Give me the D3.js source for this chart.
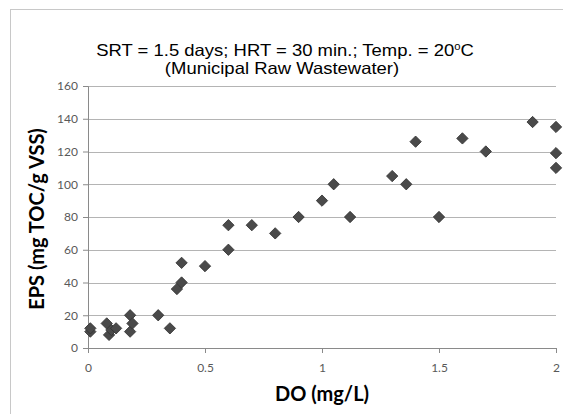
<!DOCTYPE html>
<html>
<head>
<meta charset="utf-8">
<script src="https://cdn.jsdelivr.net/npm/d3@7"></script>
<style>
  body { margin: 0; background: #fff; }
  svg { display: block; }
</style>
</head>
<body>
<div id="chart"></div>
<script>
// DO (mg/L) vs EPS (mg TOC/g VSS)
const doValues  = [0.01, 0.01, 0.08, 0.09, 0.10, 0.12, 0.18, 0.18, 0.19, 0.30, 0.35, 0.38, 0.40, 0.40, 0.50, 0.60, 0.60, 0.70, 0.80, 0.90, 1.00, 1.05, 1.12, 1.30, 1.36, 1.40, 1.50, 1.60, 1.70, 1.90, 2.00, 2.00, 2.00];
const epsValues = [10, 12, 15, 8, 11, 12, 20, 10, 15, 20, 12, 36, 40, 52, 50, 60, 75, 75, 70, 80, 90, 100, 80, 105, 100, 126, 80, 128, 120, 138, 135, 119, 110];

const xTicks = [0, 0.5, 1, 1.5, 2];
const yTicks = [0, 20, 40, 60, 80, 100, 120, 140, 160];

const titleLine1 = 'SRT = 1.5 days; HRT = 30 min.; Temp. = 20';
const titleLine2 = '(Municipal Raw Wastewater)';
const xTitle = 'DO (mg/L)';
const yTitle = 'EPS (mg TOC/g VSS)';

const W = 563, H = 414;
const margin = {top: 86, right: 7, bottom: 66, left: 88};
const width = W - margin.left - margin.right,
      height = H - margin.top - margin.bottom;

const svg = d3.select('#chart').append('svg').attr('width', W).attr('height', H);

// outer chart frame (runs off the right and bottom edge)
svg.append('rect')
    .attr('x', 10.5).attr('y', 9.5)
    .attr('width', 600).attr('height', 450)
    .attr('fill', 'none').attr('stroke', '#c8c8c8');

const x = d3.scaleLinear().domain([0, 2]).range([0, width]);
const y = d3.scaleLinear().domain([0, 160]).range([height, 0]);

const g = svg.append('g').attr('transform', `translate(${margin.left},${margin.top})`);

// gridlines
g.append('g').selectAll('line')
    .data(yTicks.filter(d => d > 0))
    .join('line')
    .attr('x1', 0).attr('x2', width)
    .attr('y1', d => Math.round(y(d)) + 0.5).attr('y2', d => Math.round(y(d)) + 0.5)
    .attr('stroke', '#b4b4b4');

const yAxis = g.append('g')
    .call(d3.axisLeft(y).tickValues(yTicks).tickSize(5).tickPadding(5));
const xAxis = g.append('g')
    .attr('transform', `translate(0,${height})`)
    .call(d3.axisBottom(x).tickValues(xTicks).tickSize(5).tickPadding(10).tickFormat(d3.format('')));

[xAxis, yAxis].forEach(ax => {
    ax.select('.domain').attr('stroke', '#8a8a8a');
    ax.selectAll('.tick line').attr('stroke', '#8a8a8a');
    ax.selectAll('.tick text')
        .attr('fill', '#595959')
        .style('font-family', 'Lato, sans-serif')
        .style('font-size', '12px');
});

// points
const points = doValues.map((d, i) => ({x: d, y: epsValues[i]}));
g.append('g').selectAll('path')
    .data(points)
    .join('path')
    .attr('d', d3.symbol(d3.symbolSquare, 64))
    .attr('transform', d => `translate(${x(d.x)},${y(d.y)}) rotate(45)`)
    .attr('fill', '#4a4a4a')
    .attr('stroke', '#333')
    .attr('stroke-width', 0.8);

// titles (the original text is a bit stretched sideways)
const title = svg.append('text')
    .attr('transform', 'translate(285,56) scale(1.12,1)')
    .attr('text-anchor', 'middle')
    .style('font-family', '"Liberation Sans", Arial, sans-serif')
    .style('font-size', '16.5px')
    .attr('fill', '#000');
title.append('tspan').text(titleLine1);
title.append('tspan').attr('dy', -6).style('font-size', '10px').text('o');
title.append('tspan').attr('dy', 6).text('C');

svg.append('text')
    .attr('transform', 'translate(282,74) scale(1.12,1)')
    .attr('text-anchor', 'middle')
    .style('font-family', '"Liberation Sans", Arial, sans-serif')
    .style('font-size', '16.5px')
    .text(titleLine2);

svg.append('text')
    .attr('x', 322).attr('y', 401)
    .attr('text-anchor', 'middle')
    .style('font-family', 'Lato, sans-serif')
    .style('font-weight', 'bold')
    .style('font-size', '20px')
    .text(xTitle);

svg.append('text')
    .attr('transform', 'translate(44,219) rotate(-90)')
    .attr('text-anchor', 'middle')
    .style('font-family', 'Lato, sans-serif')
    .style('font-weight', 'bold')
    .style('font-size', '20px')
    .text(yTitle);
</script>
</body>
</html>
